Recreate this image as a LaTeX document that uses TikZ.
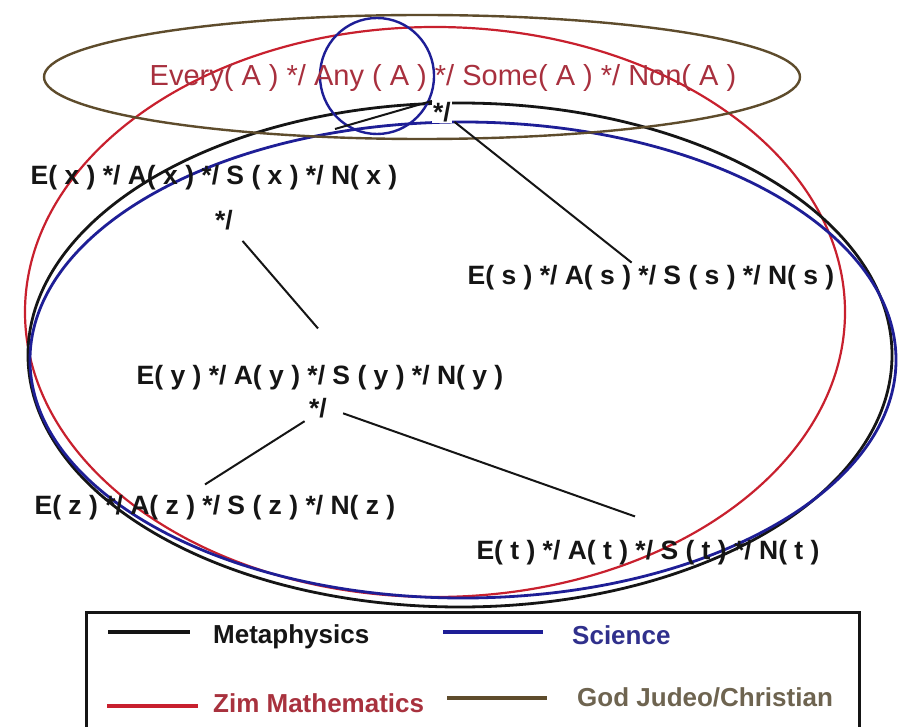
\documentclass[tikz,border=0pt]{standalone}
\usepackage{fontspec}
\setmainfont{Liberation Sans}
\usetikzlibrary{
  positioning
}
\definecolor{ink}{HTML}{151515}
\definecolor{zimred}{HTML}{C8202E}
\definecolor{sciblue}{HTML}{1E1E96}
\definecolor{godbrown}{HTML}{5E4C2C}
\definecolor{toptext}{HTML}{A8303E}
\definecolor{zimtext}{HTML}{A8323E}
\definecolor{scitext}{HTML}{30308C}
\definecolor{godtext}{HTML}{6E6450}

\begin{document}
\begin{tikzpicture}[
  x=1pt, y=-1pt,
  termtext/.style={
    font=\fontsize{26.5}{30}\selectfont\bfseries,
    text=ink,
    inner sep=1pt
  },
  toptitle/.style={
    font=\fontsize{29}{33}\selectfont,
    text=toptext,
    inner sep=1pt
  },
  joint/.style={
    termtext,
    inner sep=1pt
  },
  link/.style={
    draw=ink,
    line width=2pt
  },
  ring/.style={
    line width=2.8pt
  },
  keyline/.style={
    line width=4pt
  },
  keytext/.style={
    font=\fontsize{26}{30}\selectfont\bfseries,
    inner sep=0pt
  }
]
\useasboundingbox[fill=white] (0,0) rectangle (899,727);

% Overlapping fields
\draw[ring, draw=zimred, line width=2.2pt] (435,312) ellipse [x radius=410pt, y radius=285pt];
\draw[ring, draw=ink] (460,355) ellipse [x radius=432pt, y radius=252pt];
\draw[ring, draw=sciblue] (463,360) ellipse [x radius=433pt, y radius=238pt];
\draw[ring, draw=godbrown, line width=2.4pt] (422,77) ellipse [x radius=378pt, y radius=62pt];
\draw[ring, draw=sciblue, line width=2.4pt] (377,76) ellipse [x radius=57pt, y radius=58pt];

% Terms
\node[toptitle] (every) at (443,78) {Every( A ) */ Any ( A ) */ Some( A ) */ Non( A )};
\node[joint, fill=white] (jtop) at (442,112) {*/};
\node[termtext] (ex) at (214,178) {E( x ) */ A( x ) */ S ( x ) */ N( x )};
\node[joint] (jx) at (224,220) {*/};
\node[termtext] (es) at (651,278) {E( s ) */ A( s ) */ S ( s ) */ N( s )};
\node[termtext] (ey) at (320,378) {E( y ) */ A( y ) */ S ( y ) */ N( y )};
\node[joint] (jy) at (318,408) {*/};
\node[termtext] (ez) at (215,508) {E( z ) */ A( z ) */ S ( z ) */ N( z )};
\node[termtext] (et) at (648,553) {E( t ) */ A( t ) */ S ( t ) */ N( t )};
\coordinate (xend) at (335,129);

% Links between terms
\draw[link, shorten <=3pt, shorten >=3pt] (jtop) -- (es);
\draw[link] (jtop.north west) -- (xend);
\draw[link, shorten <=13pt] (jx.south east) -- ([shift={(-2,-36)}]ey.north);
\draw[link, shorten <=4pt] (jy.south west) -- ([shift={(-10,-10)}]ez.north);
\draw[link, shorten <=16pt] (jy.east) -- ([shift={(-13,-23)}]et.north);

% Legend
\draw[line width=3pt, draw=ink] (86,730) |- (859,612) -- (859,730);
\coordinate (kmeta0) at (108,632);
\coordinate (kmeta1) at (190,632);
\coordinate (ksci0) at (443,632);
\coordinate (ksci1) at (543,632);
\coordinate (kzim0) at (107,706);
\coordinate (kzim1) at (198,706);
\coordinate (kgod0) at (447,698);
\coordinate (kgod1) at (547,698);
\draw[keyline, draw=ink] (kmeta0) -- (kmeta1);
\draw[keyline, draw=sciblue] (ksci0) -- (ksci1);
\draw[keyline, draw=zimred] (kzim0) -- (kzim1);
\draw[keyline, draw=godbrown] (kgod0) -- (kgod1);
\node[keytext, text=ink, right=23pt of kmeta1, yshift=-5pt] (kmeta) {Metaphysics};
\node[keytext, text=scitext, right=29pt of ksci1, yshift=-3pt] (ksci) {Science};
\node[keytext, text=zimtext, right=15pt of kzim1, yshift=3pt] (kzim) {Zim Mathematics};
\node[keytext, text=godtext, right=30pt of kgod1, yshift=1pt] (kgod) {God Judeo/Christian};

\end{tikzpicture}
\end{document}
